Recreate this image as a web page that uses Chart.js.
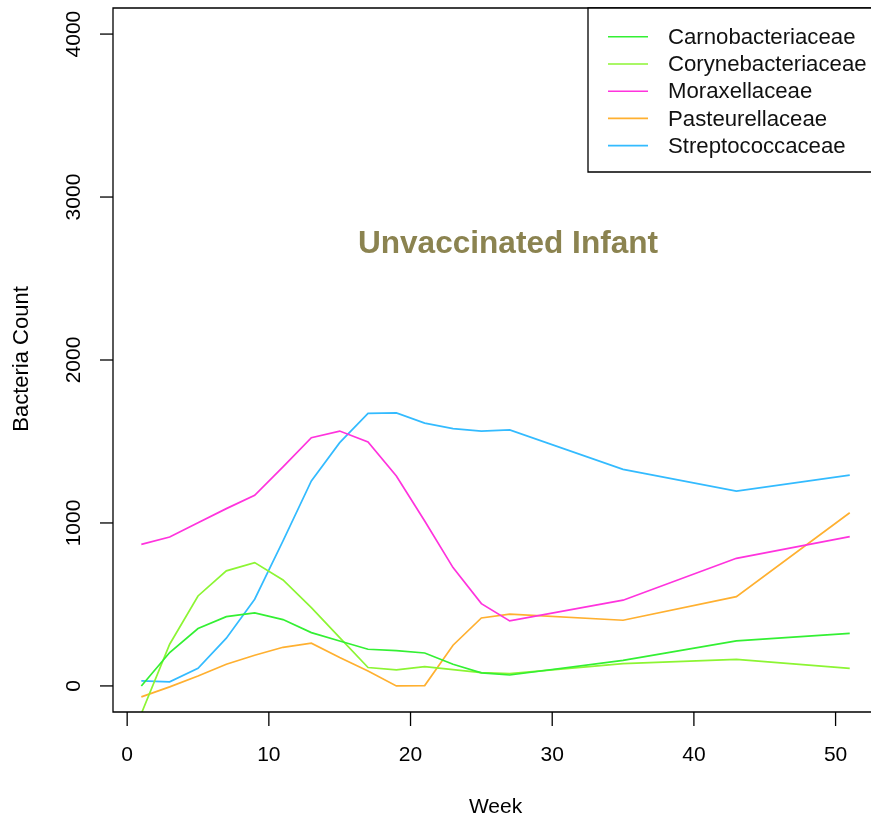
<!DOCTYPE html>
<html>
<head>
<meta charset="utf-8">
<script src="https://cdn.jsdelivr.net/npm/chart.js@4.4.1/dist/chart.umd.min.js"></script>
<style>
  html, body { margin: 0; padding: 0; background: #fff; overflow: hidden; }
  #wrap { width: 871px; height: 819px; }
</style>
</head>
<body>
<div id="wrap"><canvas id="chart" width="871" height="819"></canvas></div>
<script>
// Data
const weeks = [1, 3, 5, 7, 9, 11, 13, 15, 17, 19, 21, 23, 25, 27, 35, 43, 51];
const carno = [0, 205, 352, 425, 448, 407, 327, 276, 225, 217, 202, 133, 80, 67, 157, 276, 323];
const coryne = [-170, 256, 552, 706, 757, 650, 480, 296, 113, 98, 119, 100, 82, 76, 137, 163, 108];
const morax = [869, 914, 1002, 1088, 1170, 1344, 1523, 1564, 1497, 1288, 1012, 726, 505, 399, 526, 783, 916];
const pasteur = [-67, -6, 61, 133, 188, 237, 262, 174, 92, 0, 2, 250, 417, 440, 403, 548, 1063];
const strep = [31, 25, 108, 293, 532, 890, 1258, 1493, 1673, 1675, 1613, 1579, 1564, 1571, 1329, 1196, 1293];

const seriesNames = ['Carnobacteriaceae', 'Corynebacteriaceae', 'Moraxellaceae', 'Pasteurellaceae', 'Streptococcaceae'];
const seriesValues = [carno, coryne, morax, pasteur, strep];
const seriesColors = ['#33f033', '#8cf533', '#ff33dd', '#ffb030', '#33bbff'];

const xTicks = [0, 10, 20, 30, 40, 50];
const yTicks = [0, 1000, 2000, 3000, 4000];

const FONT = '"Liberation Sans", Arial, sans-serif';

// R-style box, axes, legend and title
const rDecor = {
    id: 'rDecor',
    afterDraw(chart) {
        const ctx = chart.ctx;
        const area = chart.chartArea;
        const xs = chart.scales.x;
        const ys = chart.scales.y;
        ctx.save();
        ctx.strokeStyle = '#000';
        ctx.fillStyle = '#000';
        ctx.lineWidth = 1.3;

        // box (right side falls outside the window)
        ctx.beginPath();
        ctx.moveTo(chart.width + 2, area.top);
        ctx.lineTo(area.left, area.top);
        ctx.lineTo(area.left, area.bottom);
        ctx.lineTo(chart.width + 2, area.bottom);
        ctx.stroke();

        // x ticks + labels
        ctx.font = '21px ' + FONT;
        ctx.textAlign = 'center';
        ctx.textBaseline = 'middle';
        xTicks.forEach(v => {
            const px = xs.getPixelForValue(v);
            ctx.beginPath();
            ctx.moveTo(px, area.bottom);
            ctx.lineTo(px, area.bottom + 14);
            ctx.stroke();
            ctx.fillText(String(v), px, 755);
        });

        // y ticks + rotated labels
        yTicks.forEach(v => {
            const py = ys.getPixelForValue(v);
            ctx.beginPath();
            ctx.moveTo(area.left, py);
            ctx.lineTo(area.left - 13, py);
            ctx.stroke();
            ctx.save();
            ctx.translate(74, py);
            ctx.rotate(-Math.PI / 2);
            ctx.fillText(String(v), 0, 0);
            ctx.restore();
        });

        // axis titles
        ctx.fillText('Week', (area.left + xs.getPixelForValue(53)) / 2, 807);
        ctx.save();
        ctx.font = '22px ' + FONT;
        ctx.translate(22, 359);
        ctx.rotate(-Math.PI / 2);
        ctx.fillText('Bacteria Count', 0, 0);
        ctx.restore();

        // title inside plot
        ctx.font = 'bold 31.6px ' + FONT;
        ctx.fillStyle = '#8b8350';
        ctx.fillText('Unvaccinated Infant', 508, 244);

        // legend
        ctx.fillStyle = '#fff';
        ctx.fillRect(588, area.top, chart.width - 588 + 2, 172 - area.top);
        ctx.strokeStyle = '#000';
        ctx.lineWidth = 1.3;
        ctx.beginPath();
        ctx.moveTo(chart.width + 2, area.top);
        ctx.lineTo(588, area.top);
        ctx.lineTo(588, 172);
        ctx.lineTo(chart.width + 2, 172);
        ctx.stroke();
        ctx.font = '22.2px ' + FONT;
        ctx.textAlign = 'left';
        seriesNames.forEach((name, i) => {
            const yy = 36.8 + i * 27.2;
            ctx.strokeStyle = seriesColors[i];
            ctx.lineWidth = 1.6;
            ctx.beginPath();
            ctx.moveTo(608, yy);
            ctx.lineTo(648, yy);
            ctx.stroke();
            ctx.fillStyle = '#111';
            ctx.fillText(name, 668, yy + 1);
        });
        ctx.restore();
    }
};

new Chart(document.getElementById('chart').getContext('2d'), {
    type: 'line',
    data: {
        datasets: seriesNames.map((name, i) => ({
            label: name,
            data: weeks.map((w, j) => ({ x: w, y: seriesValues[i][j] })),
            borderColor: seriesColors[i],
            borderWidth: 1.7,
            pointRadius: 0,
            tension: 0,
            fill: false
        }))
    },
    options: {
        responsive: false,
        animation: false,
        events: [],
        layout: { padding: { left: 113, top: 8, right: 0, bottom: 107 } },
        plugins: {
            legend: { display: false },
            tooltip: { enabled: false }
        },
        scales: {
            x: { type: 'linear', display: false, min: -1, max: 52.5 },
            y: { type: 'linear', display: false, min: -160, max: 4160 }
        }
    },
    plugins: [rDecor]
});
</script>
</body>
</html>
